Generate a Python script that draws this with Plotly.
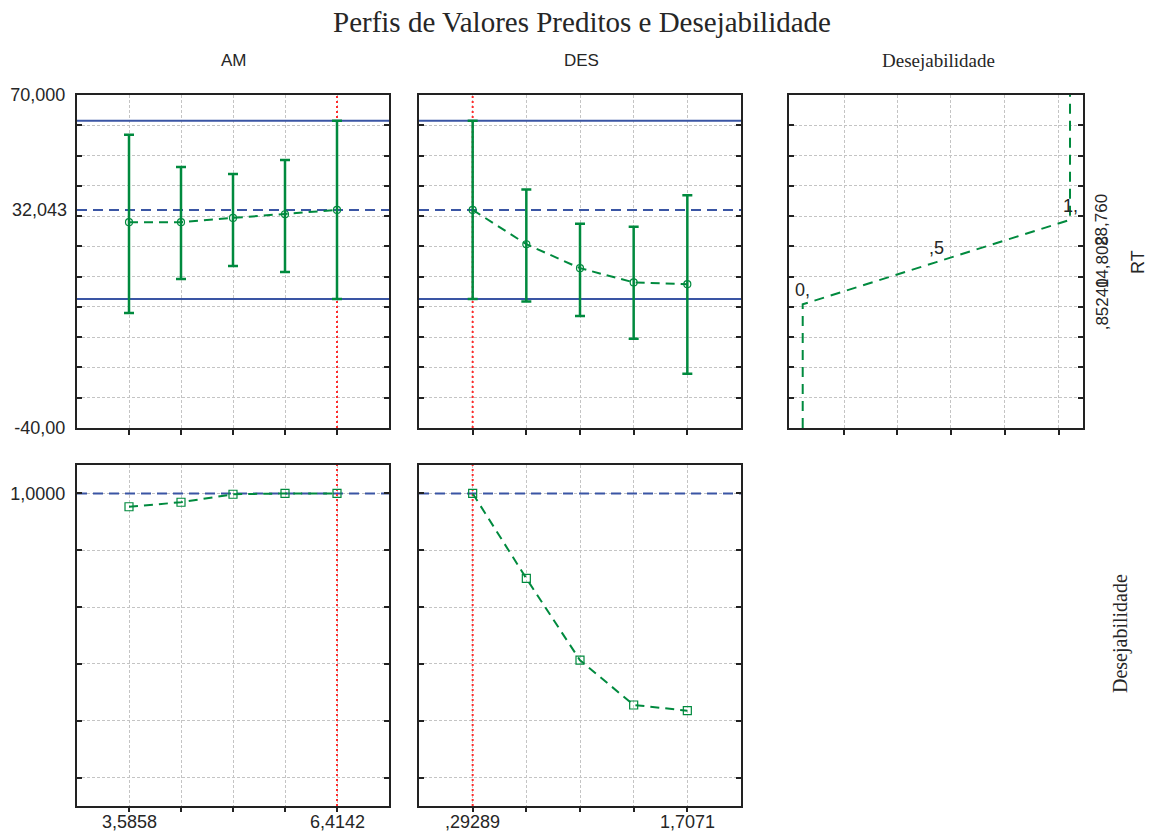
import numpy as np
import plotly.graph_objects as go

W, H = 1151, 836

# ---------------- data ----------------
am_levels = [3.5858, 4.2929, 5.0000, 5.7071, 6.4142]
des_levels = [0.29289, 0.64645, 1.00000, 1.35355, 1.70711]
am_ticktext = ["3,5858", "", "", "", "6,4142"]
des_ticktext = [",29289", "", "", "", "1,7071"]

rt_am = [28.0, 28.0, 29.4, 30.6, 32.043]
rt_am_upper = [56.9, 46.2, 43.9, 48.5, 61.49]
rt_am_lower = [-2.0, 9.2, 13.5, 11.5, 2.60]

rt_des = [32.043, 20.7, 12.8, 8.1, 7.5]
rt_des_upper = [61.49, 38.8, 27.5, 26.5, 36.9]
rt_des_lower = [2.60, 1.8, -3.0, -10.5, -22.1]

desir_am = [0.953, 0.969, 0.997, 1.0, 1.0]
desir_des = [1.0, 0.701, 0.413, 0.2555, 0.2355]

rt_current = 32.043
rt_ci = [2.60, 61.49]
am_current = 6.4142
des_current = 0.29289
desir_current = 1.0

desir_points = [0.0, 0.5, 1.0]
desir_rt = [0.8524, 14.808, 28.760]
desir_rt_labels = [",85240", "14,808", "28,760"]
desir_point_labels = ["0,", ",5", "1,"]

rt_range = [-40, 70]
rt_grid = list(range(-40, 71, 10))
rt_ticktext = ["-40,00"] + [""] * 10 + ["70,000"]
desir_range = [-0.1, 1.1]
desir_grid = [0.0, 0.2, 0.4, 0.6, 0.8, 1.0]
desir_ticktext = ["", "", "", "", "", "1,0000"]
d_axis_range = [-0.0513, 1.0486]
d_axis_grid = [0.156, 0.354, 0.554, 0.756, 0.958]

# ---------------- style ----------------
GREEN = "#008a3e"
BLUE = "#3a55a4"
RED = "#ff2a2a"
TXT = "#262626"
SANS = "Liberation Sans, Arial, sans-serif"
SERIF = "Liberation Serif, Times New Roman, serif"


def px_x(p):
    return p / W


def px_y(p):
    return 1 - p / H


colx = [(77, 389), (419, 741), (789, 1083)]
rowy = [(95, 428), (465, 806)]


def dom_x(i):
    return [px_x(colx[i][0]), px_x(colx[i][1])]


def dom_y(j):
    return [px_y(rowy[j][1]), px_y(rowy[j][0])]


am_rng = [am_levels[0] - (am_levels[1] - am_levels[0]), am_levels[-1] + (am_levels[1] - am_levels[0])]
des_rng = [des_levels[0] - (des_levels[1] - des_levels[0]), des_levels[-1] + (des_levels[1] - des_levels[0])]

fig = go.Figure()


def ax_common():
    return dict(showline=True, linecolor="#222", linewidth=2, mirror=True, automargin=False,
                showgrid=True, gridcolor="#c4c4c4", griddash="3px,2px", gridwidth=1,
                zeroline=False, tickcolor="#222", ticklen=5, tickwidth=2,
                tickfont=dict(family=SANS, size=18, color=TXT), tickmode="array")


def err(y, up, lo):
    y = np.array(y)
    return dict(type="data", symmetric=False, array=np.array(up) - y,
                arrayminus=y - np.array(lo), color=GREEN, thickness=2.5, width=5)


def hline(xa, ya, xr, v, dash=None):
    fig.add_trace(go.Scatter(x=xr, y=[v, v], xaxis=xa, yaxis=ya, mode="lines", hoverinfo="skip",
                             line=dict(color=BLUE, width=2, dash=dash) if dash else dict(color=BLUE, width=2)))


# blue reference lines (drawn first, under the data)
for xa, ya, xr in [("x", "y", am_rng), ("x2", "y2", des_rng)]:
    for v in rt_ci:
        hline(xa, ya, xr, v)
    hline(xa, ya, xr, rt_current, "10px,6px")
for xa, ya, xr in [("x4", "y4", am_rng), ("x5", "y5", des_rng)]:
    hline(xa, ya, xr, desir_current, "10px,6px")

# red current-value lines
for xa, ya, xv, rng in [("x", "y", am_current, rt_range), ("x2", "y2", des_current, rt_range),
                        ("x4", "y4", am_current, desir_range), ("x5", "y5", des_current, desir_range)]:
    fig.add_trace(go.Scatter(x=[xv, xv], y=rng, xaxis=xa, yaxis=ya, mode="lines", hoverinfo="skip",
                             line=dict(color=RED, width=2, dash="2px,3px")))

# top-left: AM vs RT
fig.add_trace(go.Scatter(x=am_levels, y=rt_am, xaxis="x", yaxis="y", mode="lines+markers",
                         line=dict(color=GREEN, width=2, dash="9px,6px"),
                         marker=dict(symbol="circle-open", size=7, color=GREEN, line=dict(width=1.2)),
                         error_y=err(rt_am, rt_am_upper, rt_am_lower)))
# top-mid: DES vs RT
fig.add_trace(go.Scatter(x=des_levels, y=rt_des, xaxis="x2", yaxis="y2", mode="lines+markers",
                         line=dict(color=GREEN, width=2, dash="9px,6px"),
                         marker=dict(symbol="circle-open", size=7, color=GREEN, line=dict(width=1.2)),
                         error_y=err(rt_des, rt_des_upper, rt_des_lower)))
# top-right: desirability function
fig.add_trace(go.Scatter(x=[desir_points[0]] + desir_points + [desir_points[-1]],
                         y=[rt_range[0]] + desir_rt + [rt_range[1]],
                         xaxis="x3", yaxis="y3", mode="lines",
                         line=dict(color=GREEN, width=2, dash="10px,7px")))
# bottom-left
fig.add_trace(go.Scatter(x=am_levels, y=desir_am, xaxis="x4", yaxis="y4", mode="lines+markers",
                         line=dict(color=GREEN, width=2, dash="9px,6px"),
                         marker=dict(symbol="square-open", size=8, color=GREEN, line=dict(width=1.2))))
# bottom-mid
fig.add_trace(go.Scatter(x=des_levels, y=desir_des, xaxis="x5", yaxis="y5", mode="lines+markers",
                         line=dict(color=GREEN, width=2, dash="9px,6px"),
                         marker=dict(symbol="square-open", size=8, color=GREEN, line=dict(width=1.2))))

layout = dict(
    width=W, height=H, margin=dict(l=0, r=0, t=0, b=0, autoexpand=False),
    paper_bgcolor="white", plot_bgcolor="white", showlegend=False,
)

layout["xaxis"] = dict(ax_common(), domain=dom_x(0), anchor="y", range=am_rng, tickvals=am_levels,
                       showticklabels=False, ticks="outside")
layout["yaxis"] = dict(ax_common(), domain=dom_y(0), anchor="x", range=rt_range, tickvals=rt_grid,
                       ticktext=rt_ticktext, ticks="inside", mirror="ticks", ticklabelstandoff=6)
layout["xaxis2"] = dict(ax_common(), domain=dom_x(1), anchor="y2", range=des_rng, tickvals=des_levels,
                        showticklabels=False, ticks="outside")
layout["yaxis2"] = dict(ax_common(), domain=dom_y(0), anchor="x2", range=rt_range, tickvals=rt_grid,
                        showticklabels=False, ticks="inside", mirror="ticks")
layout["xaxis3"] = dict(ax_common(), domain=dom_x(2), anchor="y3", range=d_axis_range, tickvals=d_axis_grid,
                        showticklabels=False, ticks="outside")
layout["yaxis3"] = dict(ax_common(), domain=dom_y(0), anchor="x3", range=rt_range, tickvals=rt_grid,
                        showticklabels=False, ticks="inside", mirror="ticks", side="right")
layout["xaxis4"] = dict(ax_common(), domain=dom_x(0), anchor="y4", range=am_rng, tickvals=am_levels,
                        showticklabels=False, ticks="outside", ticklen=4)
layout["yaxis4"] = dict(ax_common(), domain=dom_y(1), anchor="x4", range=desir_range, tickvals=desir_grid,
                        ticktext=desir_ticktext, ticks="inside", mirror="ticks", ticklabelstandoff=6)
layout["xaxis5"] = dict(ax_common(), domain=dom_x(1), anchor="y5", range=des_rng, tickvals=des_levels,
                        showticklabels=False, ticks="outside", ticklen=4)
layout["yaxis5"] = dict(ax_common(), domain=dom_y(1), anchor="x5", range=desir_range, tickvals=desir_grid,
                        showticklabels=False, ticks="inside", mirror="ticks")

ann = []
ann.append(dict(text="Perfis de Valores Preditos e Desejabilidade", xref="paper", yref="paper",
                x=px_x(582), y=px_y(22), showarrow=False, xanchor="center", yanchor="middle",
                font=dict(family=SERIF, size=29, color=TXT)))
ann.append(dict(text="AM", xref="paper", yref="paper", x=px_x(234), y=px_y(60), showarrow=False,
                xanchor="center", yanchor="middle", font=dict(family=SANS, size=17, color=TXT)))
ann.append(dict(text="DES", xref="paper", yref="paper", x=px_x(581), y=px_y(60), showarrow=False,
                xanchor="center", yanchor="middle", font=dict(family=SANS, size=17, color=TXT)))
ann.append(dict(text="Desejabilidade", xref="paper", yref="paper", x=px_x(938), y=px_y(61), showarrow=False,
                xanchor="center", yanchor="middle", font=dict(family=SERIF, size=19, color=TXT)))
ann.append(dict(text="32,043", xref="paper", yref="y", x=px_x(69), y=rt_current, showarrow=False,
                xanchor="right", yanchor="middle", font=dict(family=SANS, size=18, color=TXT)))
# bottom x tick labels
for xa, levels, texts in [("x4", am_levels, am_ticktext), ("x5", des_levels, des_ticktext)]:
    for xv, t in zip(levels, texts):
        if t:
            ann.append(dict(text=t, xref=xa, yref="paper", x=xv, y=px_y(822), showarrow=False,
                            xanchor="center", yanchor="middle", font=dict(family=SANS, size=18, color=TXT)))
for xv, yv, t in zip(desir_points, desir_rt, desir_point_labels):
    ann.append(dict(text=t, xref="x3", yref="y3", x=xv, y=yv, yshift=14, showarrow=False,
                    xanchor="center", yanchor="middle", font=dict(family=SANS, size=18, color=TXT)))
for yv, t in zip(desir_rt, desir_rt_labels):
    ann.append(dict(text=t, xref="paper", yref="y3", x=px_x(1102), y=yv, showarrow=False, textangle=-90,
                    xanchor="center", yanchor="middle", font=dict(family=SANS, size=17, color=TXT)))
ann.append(dict(text="RT", xref="paper", yref="paper", x=px_x(1138), y=px_y(262), showarrow=False,
                xanchor="center", yanchor="middle", textangle=-90, font=dict(family=SANS, size=18, color=TXT)))
ann.append(dict(text="Desejabilidade", xref="paper", yref="paper", x=px_x(1120), y=px_y(634), showarrow=False,
                xanchor="center", yanchor="middle", textangle=-90, font=dict(family=SERIF, size=20, color=TXT)))
layout["annotations"] = ann

fig.update_layout(**layout)
fig.write_html("out.html")
